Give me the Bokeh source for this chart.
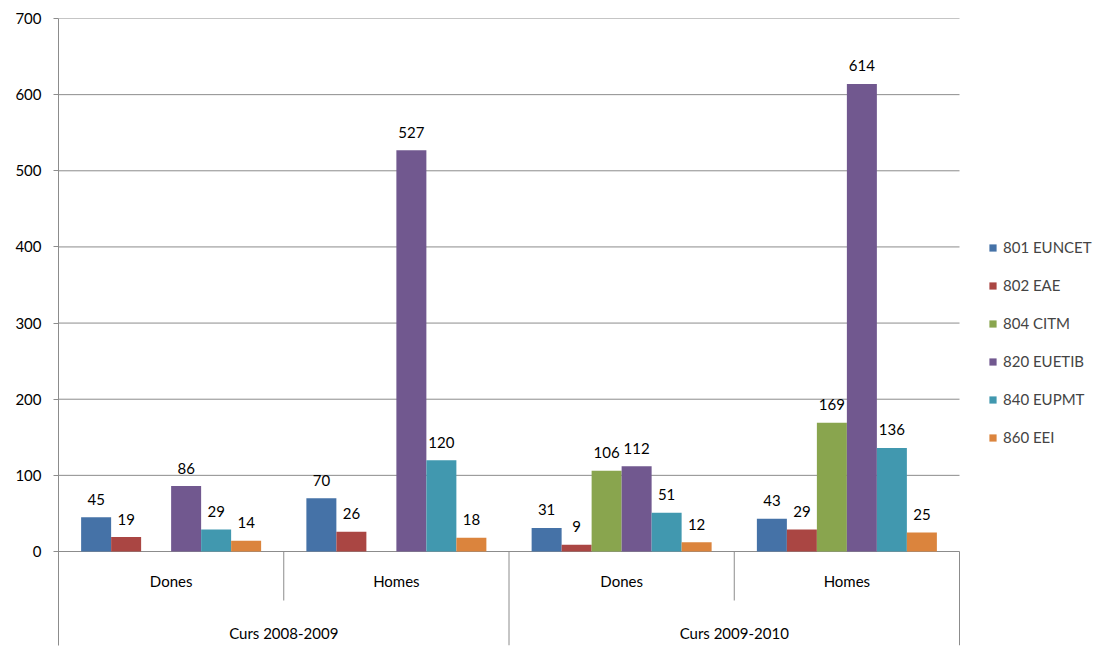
from bokeh.plotting import figure
from bokeh.models import ColumnDataSource, Range1d, FixedTicker, Legend, LegendItem
from bokeh.transform import dodge
from bokeh.core.properties import value
from bokeh.embed import file_html
from bokeh.resources import INLINE

# ---- data ----
subcats = ["Dones", "Homes", "Dones", "Homes"]
years = ["Curs 2008-2009", "Curs 2009-2010"]
series = ["801 EUNCET", "802 EAE", "804 CITM", "820 EUETIB", "840 EUPMT", "860 EEI"]
v801 = [45, 70, 31, 43]
v802 = [19, 26, 9, 29]
v804 = [None, None, 106, 169]
v820 = [86, 527, 112, 614]
v840 = [29, 120, 51, 136]
v860 = [14, 18, 12, 25]
values = [v801, v802, v804, v820, v840, v860]
colors = ["#4572A7", "#AA4643", "#89A54E", "#71588F", "#4198AF", "#DB843D"]
y_ticks = [0, 100, 200, 300, 400, 500, 600, 700]

FONT = "Lato"
FS = "15px"
GRAY = "#8C8C8C"

# frame (page px): left 58, right 1093, top 18, bottom 645 ; x 0..4 -> 58..959 ; y 0..700 -> 551..18
unit_x = (959 - 58) / 4.0
x_end = (1093 - 58) / unit_x
y_scale = (551 - 18) / 700.0
y_start = -(645 - 551) / y_scale

p = figure(width=1093, height=646, output_backend="svg", toolbar_location=None,
           x_range=Range1d(0, x_end), y_range=Range1d(y_start, 700),
           min_border_left=58, min_border_right=0, min_border_top=18, min_border_bottom=1)
p.outline_line_color = None
p.xaxis.visible = False
p.xgrid.visible = False
p.ygrid.visible = False
p.background_fill_color = "white"
p.border_fill_color = "white"

ya = p.yaxis[0]
ya.ticker = FixedTicker(ticks=y_ticks)
ya.minor_tick_line_color = None
ya.major_tick_in = 0
ya.major_tick_out = 5
ya.major_tick_line_color = GRAY
ya.axis_line_color = GRAY
ya.major_label_text_font = FONT
ya.major_label_text_font_size = FS
ya.major_label_text_color = "black"
ya.major_label_standoff = 12

n = len(subcats)
centers = [i + 0.5 for i in range(n)]

# gridlines (within category area only)
p.segment(x0=[0] * len(y_ticks), x1=[n] * len(y_ticks), y0=y_ticks, y1=y_ticks,
          line_color=GRAY, line_width=1)

# category separators
sub_bottom = -(600 - 551) / y_scale
p.segment(x0=[1, 3], x1=[1, 3], y0=[0, 0], y1=[sub_bottom, sub_bottom], line_color=GRAY, line_width=1)
p.segment(x0=[2, 4], x1=[2, 4], y0=[0, 0], y1=[y_start, y_start], line_color=GRAY, line_width=1)

# category labels
p.text(x=centers, y=[-(580 - 551) / y_scale] * n, text=subcats, text_align="center",
       text_baseline="middle", text_font=value(FONT), text_font_size=FS, text_color="black")
p.text(x=[1, 3], y=[-(632 - 551) / y_scale] * 2, text=years, text_align="center",
       text_baseline="middle", text_font=value(FONT), text_font_size=FS, text_color="black")

bar_w = 30 / unit_x
items = []
for j, (name, vals, col) in enumerate(zip(series, values, colors)):
    xs = [c for c, v in zip(centers, vals) if v is not None]
    tops = [v for v in vals if v is not None]
    src = ColumnDataSource(dict(x=xs, top=tops, label=[str(v) for v in tops]))
    off = (j - 2.5) * bar_w
    r = p.vbar(x=dodge("x", off, range=p.x_range), top="top", bottom=0, width=bar_w,
               source=src, fill_color=col, line_color=None)
    p.text(x=dodge("x", off, range=p.x_range), y="top", text="label", source=src,
           text_align="center", text_baseline="middle", y_offset=-18,
           text_font=value(FONT), text_font_size=FS, text_color="black")
    items.append(LegendItem(label=name, renderers=[r]))

# legend: first glyph at page x 988, entries centred at y ~249 .. 441
legend = Legend(items=items, location=(988 - 58, 645 - 249 - 10 - 190 + 2),
                orientation="vertical",
                glyph_width=9, glyph_height=9, label_height=20, spacing=18,
                label_standoff=6, padding=0, margin=0,
                label_text_font=FONT, label_text_font_size=FS,
                border_line_color=None, background_fill_alpha=0)
p.add_layout(legend)

open("out.html", "w").write(file_html(p, INLINE))
